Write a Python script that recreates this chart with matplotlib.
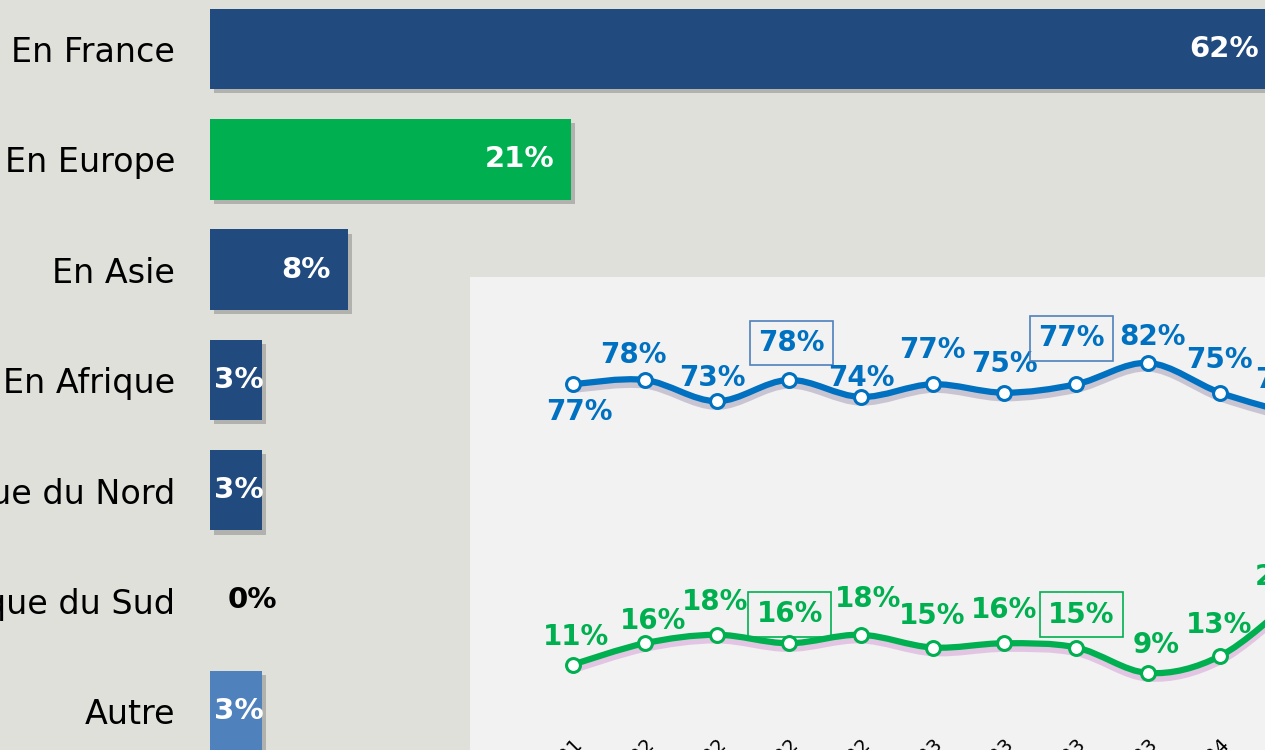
import numpy as np
import matplotlib
matplotlib.use("Agg")
import matplotlib.pyplot as plt
import matplotlib.patheffects as pe
from matplotlib.path import Path
from matplotlib.patches import PathPatch, Rectangle

# bar part: where the money goes
regions = ["En France", "En Europe", "En Asie", "En Afrique",
           "En Amérique du Nord", "En Amérique du Sud", "Autre"]
shares = [62, 21, 8, 3, 3, 0, 3]

# line part: France vs Europe over time
periods = ["T4 2021", "T1 2022", "T2 2022", "T3 2022", "T4 2022", "T1 2023",
           "T2 2023", "T3 2023", "T4 2023", "T1 2024", "T2 2024"]
france = [77, 78, 73, 78, 74, 77, 75, 77, 82, 75, 70]
europe = [11, 16, 18, 16, 18, 15, 16, 15, 9, 13, 26]
boxed = [3, 7]

dark = "#214a7e"
green = "#00b050"
light = "#4f81bd"
blue = "#0070c0"
bg = "#dfe0da"
bar_colors = [dark, green, dark, dark, dark, dark, light]

# label offsets in pixels (layout only)
france_offs = [(6, -28), (-12, 25), (-4, 23), (3, 37), (1, 19), (0, 34),
               (0, 29), (-5, 46), (4, 26), (-1, 33), (-4, 34)]
europe_offs = [(3, 28), (8, 22), (-2, 33), (1, 29), (7, 36), (0, 32),
               (0, 33), (5, 33), (8, 28), (-1, 31), (-4, 24)]


def smooth_path(x, y):
    pts = np.column_stack([x, y]).astype(float)
    n = len(pts)
    verts = [pts[0]]
    codes = [Path.MOVETO]
    for i in range(n - 1):
        p0 = pts[i - 1] if i > 0 else pts[i]
        p1 = pts[i]
        p2 = pts[i + 1]
        p3 = pts[i + 2] if i + 2 < n else pts[i + 1]
        verts += [p1 + (p2 - p0) / 6, p2 - (p3 - p1) / 6, p2]
        codes += [Path.CURVE4] * 3
    return Path(verts, codes)


W, H = 1265, 750
fig = plt.figure(figsize=(W / 100, H / 100), dpi=100, facecolor=bg)

# --- horizontal bars ---
ax = fig.add_axes([210 / W, 0, (W - 210) / W, 1], zorder=0)
ax.set_facecolor("none")
px = 17.19
y = np.arange(len(regions))
bars = ax.barh(y, shares, height=0.73, color=bar_colors, clip_on=False)
for b in bars:
    b.set_path_effects([pe.SimplePatchShadow(offset=(3, -3), shadow_rgbFace="#7a7a7a", alpha=0.45),
                        pe.Normal()])
for i, v in enumerate(shares):
    if v >= 5:
        ax.annotate(f"{v}%", (v, i), xytext=(-17, 0), textcoords="offset pixels",
                    ha="right", va="center", color="white", fontsize=21,
                    fontweight="bold", annotation_clip=False)
    elif v > 0:
        ax.annotate(f"{v}%", (0, i), xytext=(4, 0), textcoords="offset pixels",
                    ha="left", va="center", color="white", fontsize=21,
                    fontweight="bold", annotation_clip=False)
    else:
        ax.annotate(f"{v}%", (0, i), xytext=(18, 0), textcoords="offset pixels",
                    ha="left", va="center", color="black", fontsize=21,
                    fontweight="bold", annotation_clip=False)
ax.set_yticks(y, regions, fontsize=24)
ax.tick_params(axis="y", length=0, pad=25)
ax.set_xticks([])
ax.set_xlim(0, (W - 210) / px)
ax.set_ylim((H - 49) / 110.3, -49 / 110.3)
for s in ax.spines.values():
    s.set_visible(False)

# --- inset panel with the two lines ---
fig.patches.append(Rectangle((470 / W, 0), (W - 470) / W, 1 - 277 / H,
                             transform=fig.transFigure, fc="#f2f2f2", ec="none",
                             zorder=0.5))
lx = fig.add_axes([470 / W, 1 - 733 / H, (W - 470) / W, (733 - 277) / H], zorder=1)
lx.set_facecolor("none")
sx = 71.9
sy = 4.247
xs = np.arange(len(periods))

for vals, col, shadow, offs in [(france, blue, "#6a5a8a", france_offs),
                                (europe, green, "#c060c0", europe_offs)]:
    patch = PathPatch(smooth_path(xs, vals), fill=False, ec=col, lw=4.5,
                      capstyle="round", zorder=2)
    patch.set_path_effects([pe.SimpleLineShadow(offset=(0, -4), shadow_color=shadow, alpha=0.3),
                            pe.Normal()])
    lx.add_patch(patch)
    lx.plot(xs, vals, "o", ms=10, mfc="white", mec=col, mew=2.2, zorder=3)
    for i, v in enumerate(vals):
        box = None
        if i in boxed:
            box = dict(boxstyle="square,pad=0.3", fc="none",
                       ec=light if col == blue else col, lw=1.2)
        lx.annotate(f"{v}%", (i, v), xytext=offs[i], textcoords="offset pixels",
                    ha="center", va="center", fontsize=20, fontweight="bold",
                    color=col, bbox=box, annotation_clip=False)

lx.set_xticks(xs, periods, fontsize=14, rotation=45, ha="right",
              rotation_mode="anchor")
lx.tick_params(axis="x", length=0, pad=2)
lx.set_yticks([])
lx.set_xlim((470 - 573) / sx, (W - 573) / sx)
lx.set_ylim(9 + (673 - 733) / sy, 9 + (673 - 277) / sy)
for s in lx.spines.values():
    s.set_visible(False)

fig.savefig("out.png", dpi=100, facecolor=bg)
